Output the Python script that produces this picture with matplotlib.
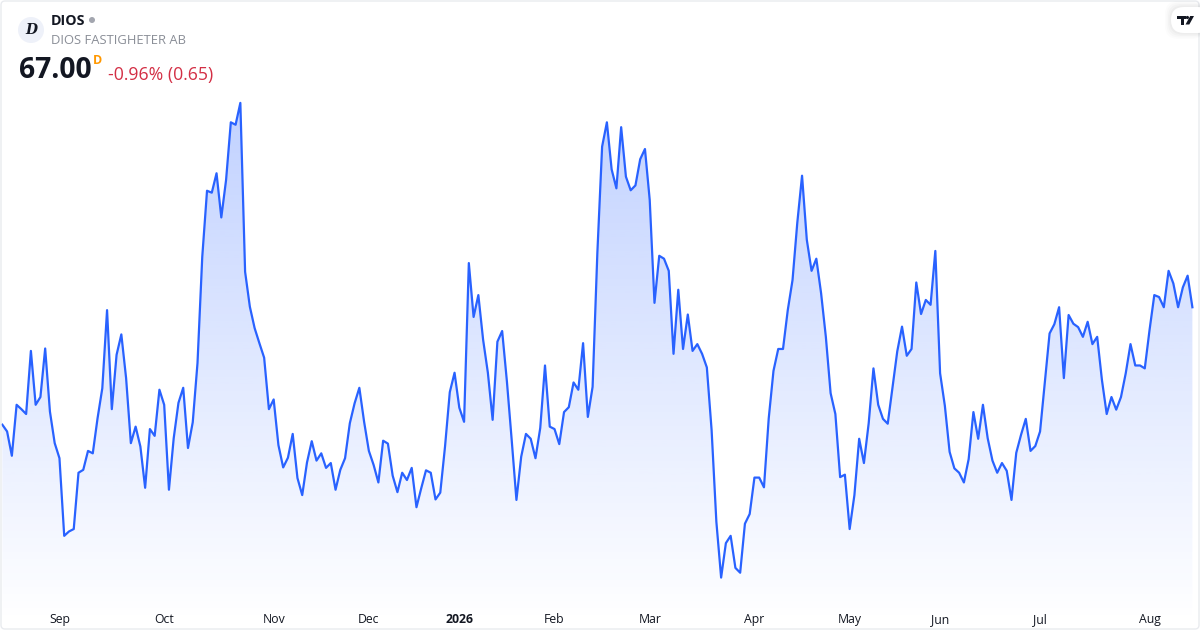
import matplotlib
matplotlib.use("Agg")
import matplotlib.pyplot as plt
import numpy as np
from matplotlib.colors import LinearSegmentedColormap
from matplotlib.patches import Circle, FancyBboxPatch, Polygon, Rectangle

ticker = "DIOS"
company = "DIOS FASTIGHETER AB"
last_price = "67.00"
change_text = "-0.96% (0.65)"

closes = [
    64.58, 64.44, 63.94, 64.99, 64.90, 64.80, 66.10, 64.99, 65.15, 66.15,
    64.85, 64.20, 63.89, 62.29, 62.38, 62.43, 63.59, 63.65, 64.04, 63.99,
    64.71, 65.33, 66.94, 64.90, 66.02, 66.44, 65.54, 64.20, 64.54, 64.13,
    63.28, 64.49, 64.35, 65.30, 64.99, 63.24, 64.30, 65.03, 65.34, 64.10,
    64.63, 65.85, 68.04, 69.40, 69.36, 69.76, 68.85, 69.62, 70.81, 70.76,
    71.21, 67.73, 67.01, 66.57, 66.26, 65.96, 64.90, 65.10, 64.16, 63.70,
    63.90, 64.39, 63.48, 63.13, 63.80, 64.24, 63.84, 63.99, 63.69, 63.79,
    63.24, 63.65, 63.89, 64.61, 65.02, 65.34, 64.64, 64.04, 63.75, 63.39,
    64.25, 64.19, 63.53, 63.19, 63.59, 63.44, 63.69, 62.88, 63.27, 63.64,
    63.59, 63.04, 63.18, 64.13, 65.25, 65.65, 64.93, 64.64, 67.91, 66.80,
    67.25, 66.33, 65.65, 64.68, 66.29, 66.51, 65.47, 64.27, 63.03, 63.92,
    64.39, 64.29, 63.89, 64.51, 65.80, 64.54, 64.49, 64.18, 64.84, 64.94,
    65.45, 65.30, 66.26, 64.74, 65.36, 68.12, 70.31, 70.81, 69.84, 69.45,
    70.71, 69.69, 69.41, 69.51, 70.05, 70.26, 69.21, 67.09, 68.06, 68.00,
    67.75, 66.04, 67.36, 66.14, 66.85, 66.10, 66.24, 66.04, 65.76, 64.47,
    62.58, 61.43, 62.14, 62.29, 61.63, 61.53, 62.54, 62.74, 63.49, 63.49,
    63.29, 64.71, 65.69, 66.14, 66.14, 66.94, 67.56, 68.74, 69.71, 68.39,
    67.75, 68.00, 67.29, 66.39, 65.23, 64.80, 63.50, 63.55, 62.43, 63.13,
    64.29, 63.79, 64.61, 65.74, 64.99, 64.70, 64.60, 65.34, 66.09, 66.60,
    66.00, 66.14, 67.51, 66.86, 67.15, 67.05, 68.16, 65.64, 64.97, 64.02,
    63.68, 63.59, 63.39, 63.87, 64.84, 64.29, 64.99, 64.30, 63.84, 63.59,
    63.79, 63.63, 63.03, 64.00, 64.37, 64.70, 64.04, 64.14, 64.44, 65.44,
    66.46, 66.65, 67.00, 65.54, 66.84, 66.66, 66.59, 66.39, 66.70, 66.24,
    66.39, 65.50, 64.80, 65.15, 64.89, 65.15, 65.64, 66.24, 65.80, 65.80,
    65.74, 66.53, 67.25, 67.21, 67.00, 67.75, 67.49, 67.00, 67.41, 67.65,
    67.00,
]

# trading day index of the first session shown for each label
month_ticks = [12, 34, 57, 77, 96, 116, 136, 158, 178, 197, 218, 241]
month_labels = ["Sep", "Oct", "Nov", "Dec", "2026", "Feb", "Mar", "Apr", "May", "Jun", "Jul", "Aug"]

LINE = "#2962FF"
INK = "#131722"
plt.rcParams["font.family"] = ["Open Sans", "DejaVu Sans"]

fig = plt.figure(figsize=(12, 6.3), dpi=100, facecolor="white")
ax = fig.add_axes([0, 0, 1, 1])
ax.set_facecolor("white")

days = np.arange(len(closes))
y_low, y_high = 60.35, 73.33

# gradient under the line, clipped to the area polygon
fill = ax.fill_between(days, closes, y_low, color="none", lw=0)
cmap = LinearSegmentedColormap.from_list(
    "area", [(41/255, 98/255, 1, 0.29), (41/255, 98/255, 1, 0.0)])
grad = ax.imshow(np.linspace(0, 1, 256).reshape(-1, 1), cmap=cmap, aspect="auto",
                 extent=[days[0], days[-1], 60.5, max(closes)], zorder=1)
grad.set_clip_path(fill.get_paths()[0], transform=ax.transData)
ax.plot(days, closes, color=LINE, lw=1.6, solid_joinstyle="round", zorder=2)

ax.set_xlim(-0.49, 251.6)
ax.set_ylim(y_low, y_high)
ax.set_yticks([])
ax.set_xticks(month_ticks)
ax.set_xticklabels(month_labels, fontsize=8.8, color=INK)
ax.tick_params(axis="x", length=0, pad=-12)
ax.get_xticklabels()[4].set_fontweight("bold")
for s in ax.spines.values():
    s.set_visible(False)


def px(x, y):
    return x / 1200, 1 - y / 630


# card border
fig.add_artist(FancyBboxPatch((1, 1), 1198, 628, transform=None,
                              boxstyle="round,pad=0,rounding_size=4",
                              fc="none", ec="#e9ebef", lw=1.0, zorder=5))

# logo and header
fig.add_artist(Circle((31, 630 - 30), 13, transform=None, fc="#eef1f9", ec="none", zorder=6))
fig.text(*px(31, 30), "D", fontsize=10, style="italic", fontweight="bold", family="DejaVu Serif",
         color=INK, ha="center", va="center", zorder=7)
fig.text(*px(51, 21), ticker, fontsize=10.3, fontweight="bold", color=INK, va="center")
fig.add_artist(Circle((92, 630 - 20), 3, transform=None, fc="#a3a6af", ec="none", zorder=6))
fig.text(*px(51, 40.5), company, fontsize=9.35, color="#8a8e97", va="center")
fig.text(*px(19, 71), last_price, fontsize=20.3, fontweight="bold", color=INK, va="center")
fig.text(*px(93, 61), "D", fontsize=9, fontweight="bold", color="#ff9800", va="center")
fig.text(*px(108, 75), change_text, fontsize=12.7, color="#d32f45", va="center")

# watermark pill with soft shadow
for grow, alpha in [(6, 0.012), (4.5, 0.015), (3, 0.02), (1.5, 0.025)]:
    fig.add_artist(FancyBboxPatch((1171 - grow, 630 - 33 - grow), 40, 26 + 2 * grow, transform=None,
                                  boxstyle="round,pad=0,rounding_size=13", fc="black", ec="none",
                                  alpha=alpha, zorder=6))
fig.add_artist(FancyBboxPatch((1171, 630 - 33), 40, 26, transform=None,
                              boxstyle="round,pad=0,rounding_size=13", fc="white", ec="none", zorder=7))
fig.add_artist(Rectangle(px(1177, 19), 8.5 / 1200, 3 / 630, transform=fig.transFigure, fc=INK, lw=0, zorder=8))
fig.add_artist(Rectangle(px(1180.5, 24.5), 3.2 / 1200, 6 / 630, transform=fig.transFigure, fc=INK, lw=0, zorder=8))
fig.add_artist(Polygon([px(1185.5, 24.5), px(1190.2, 16), px(1194, 16), px(1189.3, 24.5)],
                       transform=fig.transFigure, fc=INK, lw=0, zorder=8))
fig.add_artist(Circle((1187.4, 630 - 17.5), 1.6, transform=None, fc=INK, lw=0, zorder=8))

fig.savefig("out.png", dpi=100, facecolor="white")
plt.close(fig)
